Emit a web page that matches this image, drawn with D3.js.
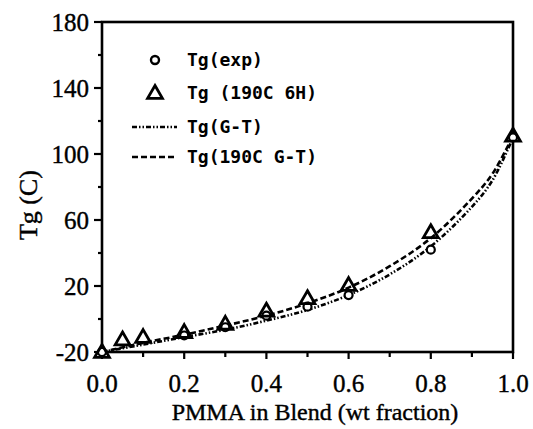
<!DOCTYPE html>
<html><head><meta charset="utf-8">
<script src="https://cdn.jsdelivr.net/npm/d3@7"></script>
<style>body{margin:0;background:#fff}svg{display:block}</style>
</head><body>
<svg id="c" width="533" height="429"></svg>
<script>
// Data
const expX = [0.0, 0.2, 0.3, 0.4, 0.5, 0.6, 0.8, 1.0];
const expY = [-20, -10, -5, 2, 7.5, 14.5, 42, 110];
const annX = [0.0, 0.05, 0.1, 0.2, 0.3, 0.4, 0.5, 0.6, 0.8, 1.0];
const annY = [-20, -12.5, -11, -8, -3, 5, 12.5, 20.5, 52.5, 111];
const curveX = [0, 0.1, 0.2, 0.3, 0.4, 0.5, 0.6, 0.7, 0.8, 0.9, 0.95, 1.0];
const gtY = [-20, -15.5, -11, -6.5, -1, 5.5, 14.5, 27, 44, 68, 84, 110];
const gt190Y = [-20, -14.5, -9.5, -4, 2, 9.5, 19, 32, 49, 73, 88, 111];
const xTicks = [0, 0.2, 0.4, 0.6, 0.8, 1.0];
const yTicks = [-20, 20, 60, 100, 140, 180];
const legendLabels = ["Tg(exp)", "Tg (190C 6H)", "Tg(G-T)", "Tg(190C G-T)"];

const svg = d3.select("#c");
const L = 102, R = 513, T = 22, B = 352;
const x = d3.scaleLinear().domain([0, 1]).range([L, R]);
const y = d3.scaleLinear().domain([-20, 180]).range([B, T]);
const serif = "Liberation Serif, Times New Roman, serif";

// frame
svg.append("rect").attr("x", L).attr("y", T).attr("width", R - L).attr("height", B - T)
  .attr("fill", "none").attr("stroke", "#000").attr("stroke-width", 2.6);

// y ticks
const yMinor = d3.range(-20, 181, 20);
svg.append("g").selectAll("line").data(yMinor).join("line")
  .attr("x1", d => yTicks.includes(d) ? L - 8 : L - 4).attr("x2", L)
  .attr("y1", d => y(d)).attr("y2", d => y(d))
  .attr("stroke", "#000").attr("stroke-width", 2.2);
svg.append("g").selectAll("text").data(yTicks).join("text")
  .attr("x", L - 13).attr("y", d => y(d)).attr("dy", "0.34em")
  .attr("text-anchor", "end").attr("font-family", serif)
  .attr("font-size", 25).attr("stroke", "#000").attr("stroke-width", 0.4).text(d => d);

// x ticks
const xMinor = d3.range(0, 11).map(i => i / 10);
svg.append("g").selectAll("line").data(xMinor).join("line")
  .attr("x1", d => x(d)).attr("x2", d => x(d))
  .attr("y1", B).attr("y2", (d, i) => i % 2 === 0 ? B + 7 : B + 5)
  .attr("stroke", "#000").attr("stroke-width", 2.2);
svg.append("g").selectAll("text").data(xTicks).join("text")
  .attr("x", d => x(d)).attr("y", 392)
  .attr("text-anchor", "middle").attr("font-family", serif)
  .attr("font-size", 25).attr("stroke", "#000").attr("stroke-width", 0.4).text(d => d.toFixed(1));

// axis titles
svg.append("text").attr("x", 315).attr("y", 420).attr("text-anchor", "middle")
  .attr("font-family", serif).attr("font-size", 24).attr("stroke", "#000").attr("stroke-width", 0.4)
  .text("PMMA in Blend (wt fraction)");
svg.append("text").attr("transform", "translate(37,205) rotate(-90)")
  .attr("text-anchor", "middle").attr("font-family", serif)
  .attr("font-size", 26).attr("stroke", "#000").attr("stroke-width", 0.4).text("Tg (C)");

// curves
const line = d3.line().curve(d3.curveCatmullRom);
const gtPts = curveX.map((v, i) => [x(v), y(gtY[i])]);
const gt190Pts = curveX.map((v, i) => [x(v), y(gt190Y[i])]);
const dotDash = "5,2,1.5,2,1.5,2";
const dash = "6,3";
svg.append("path").attr("d", line(gtPts)).attr("fill", "none")
  .attr("stroke", "#000").attr("stroke-width", 2.6).attr("stroke-dasharray", dotDash);
svg.append("path").attr("d", line(gt190Pts)).attr("fill", "none")
  .attr("stroke", "#000").attr("stroke-width", 2.6).attr("stroke-dasharray", dash);

// markers
const tri = d3.symbol().type(d3.symbolTriangle).size(95);
svg.append("g").selectAll("circle").data(expX).join("circle")
  .attr("cx", d => x(d)).attr("cy", (d, i) => y(expY[i])).attr("r", 4)
  .attr("fill", "#fff").attr("stroke", "#000").attr("stroke-width", 2.2);
svg.append("g").selectAll("path").data(annX).join("path")
  .attr("d", tri).attr("transform", (d, i) => `translate(${x(d)},${y(annY[i]) + 1})`)
  .attr("fill", "none").attr("stroke", "#000").attr("stroke-width", 2.8);

// legend
const lg = svg.append("g").attr("font-family", "DejaVu Sans Mono, monospace")
  .attr("font-size", 18).attr("font-weight", "bold");
const ly = [60, 93, 127, 157];
lg.selectAll("text").data(legendLabels).join("text")
  .attr("x", 187).attr("y", (d, i) => ly[i]).attr("dy", "0.35em").text(d => d);
lg.append("circle").attr("cx", 155).attr("cy", ly[0]).attr("r", 4)
  .attr("fill", "none").attr("stroke", "#000").attr("stroke-width", 2.4);
lg.append("path").attr("d", tri).attr("transform", `translate(155,${ly[1] + 1})`)
  .attr("fill", "none").attr("stroke", "#000").attr("stroke-width", 2.8);
lg.append("line").attr("x1", 132).attr("x2", 177).attr("y1", ly[2]).attr("y2", ly[2])
  .attr("stroke", "#000").attr("stroke-width", 2.4).attr("stroke-dasharray", dotDash);
lg.append("line").attr("x1", 132).attr("x2", 177).attr("y1", ly[3]).attr("y2", ly[3])
  .attr("stroke", "#000").attr("stroke-width", 2.4).attr("stroke-dasharray", dash);
</script>
</body></html>
